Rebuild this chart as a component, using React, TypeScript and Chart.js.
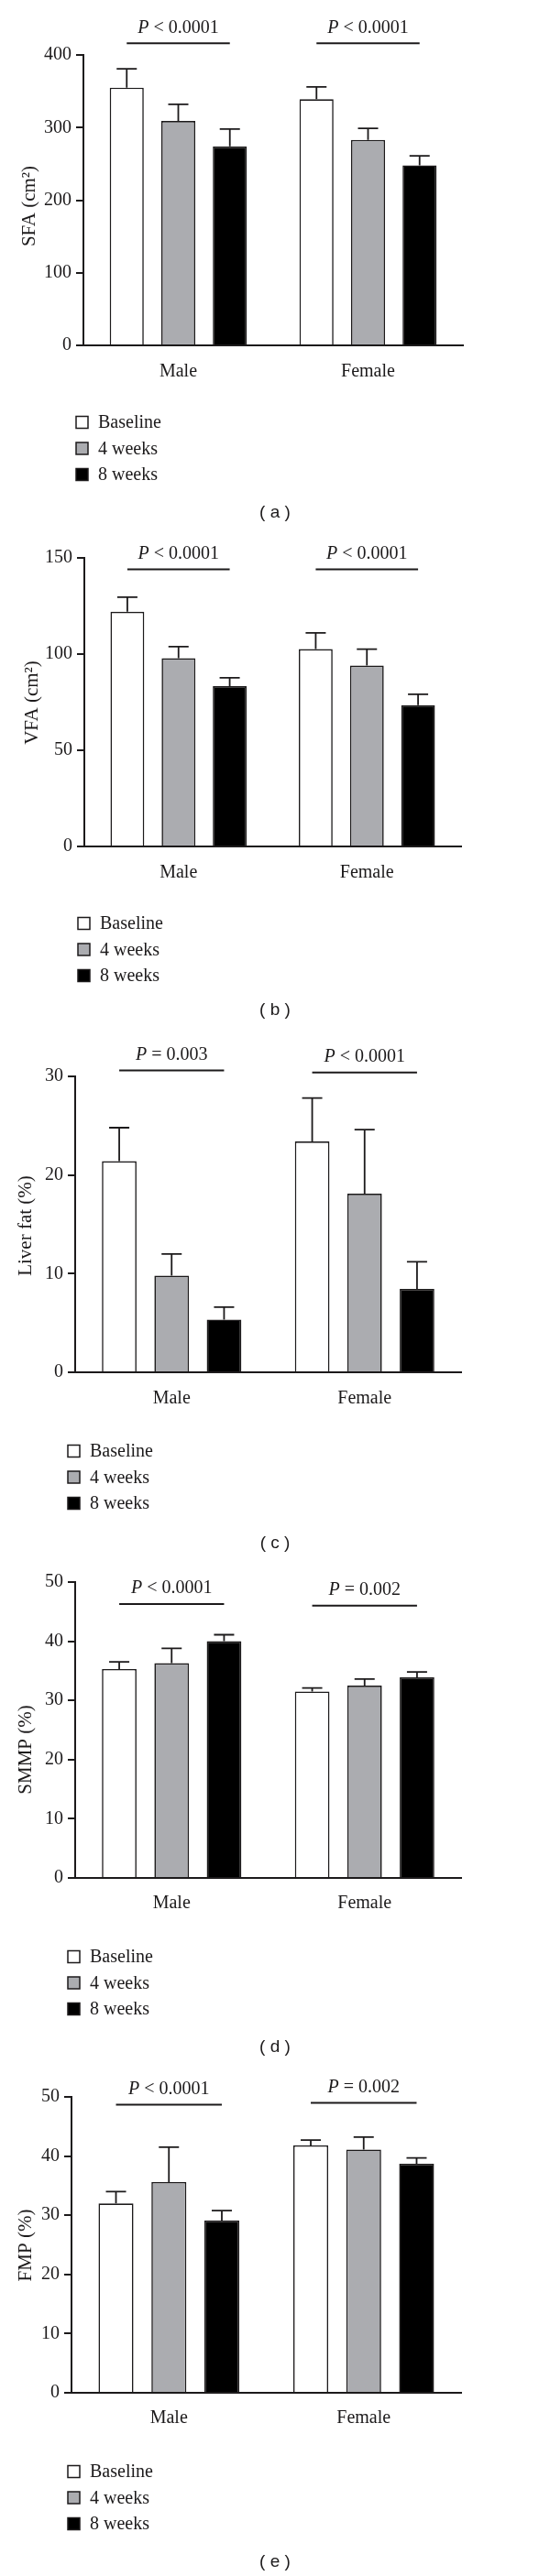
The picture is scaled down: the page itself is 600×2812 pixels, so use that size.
import React, { useEffect, useRef } from "react";
import { Chart, registerables } from "chart.js";

Chart.register(...registerables);

// ---------- shared categories / series ----------
const groups = ["Male", "Female"];
const seriesLabels = ["Baseline", "4 weeks", "8 weeks"];
const seriesColors = ["#ffffff", "#abacb0", "#000000"];

// ---------- (a) SFA ----------
const sfaTicks = { max: 400, step: 100 };
const sfaBaseline = [355, 339];
const sfa4w = [309, 283];
const sfa8w = [274, 248];
const sfaBaselineErr = [381, 356];
const sfa4wErr = [332, 299];
const sfa8wErr = [298, 261];
const sfaP = ["< 0.0001", "< 0.0001"];
const sfaPLine = [416, 416];

// ---------- (b) VFA ----------
const vfaTicks = { max: 150, step: 50 };
const vfaBaseline = [122, 102.6];
const vfa4w = [97.9, 94];
const vfa8w = [83.3, 73.5];
const vfaBaselineErr = [129.6, 111];
const vfa4wErr = [103.9, 102.6];
const vfa8wErr = [87.7, 79.1];
const vfaP = ["< 0.0001", "< 0.0001"];
const vfaPLine = [144, 144];

// ---------- (c) Liver fat ----------
const liverTicks = { max: 30, step: 10 };
const liverBaseline = [21.4, 23.4];
const liver4w = [9.8, 18.1];
const liver8w = [5.35, 8.45];
const liverBaselineErr = [24.8, 27.8];
const liver4wErr = [12.0, 24.6];
const liver8wErr = [6.6, 11.2];
const liverP = ["= 0.003", "< 0.0001"];
const liverPLine = [30.6, 30.4];

// ---------- (d) SMMP ----------
const smmpTicks = { max: 50, step: 10 };
const smmpBaseline = [35.3, 31.5];
const smmp4w = [36.3, 32.5];
const smmp8w = [40.0, 33.9];
const smmpBaselineErr = [36.5, 32.1];
const smmp4wErr = [38.8, 33.6];
const smmp8wErr = [41.1, 34.8];
const smmpP = ["< 0.0001", "= 0.002"];
const smmpPLine = [46.3, 46.0];

// ---------- (e) FMP ----------
const fmpTicks = { max: 50, step: 10 };
const fmpBaseline = [32.0, 41.8];
const fmp4w = [35.6, 41.1];
const fmp8w = [29.1, 38.7];
const fmpBaselineErr = [34.0, 42.7];
const fmp4wErr = [41.5, 43.2];
const fmp8wErr = [30.8, 39.7];
const fmpP = ["< 0.0001", "= 0.002"];
const fmpPLine = [48.7, 49.0];

// ---------- layout (page pixels) ----------
type Layout = {
  top: number; height: number; chartTop: number; chartBottom: number;
  axisX: number; axisRight: number; xLabelY: number; titleX: number; titleY: number;
  legendY: number; legendX: number; tagY: number;
};

const layouts: Layout[] = [
  { top: 0, height: 580, chartTop: 60, chartBottom: 377, axisX: 91, axisRight: 505, xLabelY: 398, titleX: 32, titleY: 225, legendY: 461, legendX: 83, tagY: 560 },
  { top: 580, height: 545, chartTop: 609, chartBottom: 924, axisX: 92, axisRight: 503, xLabelY: 945, titleX: 35, titleY: 767, legendY: 1008, legendX: 85, tagY: 1103 },
  { top: 1125, height: 580, chartTop: 1175, chartBottom: 1498, axisX: 82, axisRight: 503, xLabelY: 1519, titleX: 28, titleY: 1338, legendY: 1584, legendX: 74, tagY: 1685 },
  { top: 1705, height: 555, chartTop: 1727, chartBottom: 2050, axisX: 82, axisRight: 503, xLabelY: 2070, titleX: 28, titleY: 1910, legendY: 2136, legendX: 74, tagY: 2235 },
  { top: 2260, height: 552, chartTop: 2289, chartBottom: 2612, axisX: 78, axisRight: 503, xLabelY: 2632, titleX: 28, titleY: 2451, legendY: 2698, legendX: 74, tagY: 2797 },
];

type PanelDef = {
  yTitle: string; ticks: { max: number; step: number };
  means: number[][]; errTops: number[][]; pTexts: string[]; pLine: number[];
  tag: string; layout: Layout;
};

const panels: PanelDef[] = [
  { yTitle: "SFA (cm²)", ticks: sfaTicks, means: [sfaBaseline, sfa4w, sfa8w], errTops: [sfaBaselineErr, sfa4wErr, sfa8wErr], pTexts: sfaP, pLine: sfaPLine, tag: "( a )", layout: layouts[0] },
  { yTitle: "VFA (cm²)", ticks: vfaTicks, means: [vfaBaseline, vfa4w, vfa8w], errTops: [vfaBaselineErr, vfa4wErr, vfa8wErr], pTexts: vfaP, pLine: vfaPLine, tag: "( b )", layout: layouts[1] },
  { yTitle: "Liver fat (%)", ticks: liverTicks, means: [liverBaseline, liver4w, liver8w], errTops: [liverBaselineErr, liver4wErr, liver8wErr], pTexts: liverP, pLine: liverPLine, tag: "( c )", layout: layouts[2] },
  { yTitle: "SMMP (%)", ticks: smmpTicks, means: [smmpBaseline, smmp4w, smmp8w], errTops: [smmpBaselineErr, smmp4wErr, smmp8wErr], pTexts: smmpP, pLine: smmpPLine, tag: "( d )", layout: layouts[3] },
  { yTitle: "FMP (%)", ticks: fmpTicks, means: [fmpBaseline, fmp4w, fmp8w], errTops: [fmpBaselineErr, fmp4wErr, fmp8wErr], pTexts: fmpP, pLine: fmpPLine, tag: "( e )", layout: layouts[4] },
];

const ink = "#1c1a1b";
const serif = '"Liberation Serif", "DejaVu Serif", serif';
const FS = 20;
const TITLE_FS = 21;

function Panel({ def }: { def: PanelDef }) {
  const ref = useRef<HTMLCanvasElement | null>(null);
  useEffect(() => {
    const L = def.layout;
    const off = L.top;
    const decor = {
      id: "decor",
      afterDatasetsDraw(chart: any) {
        const ctx = chart.ctx;
        const ys = chart.scales.y;
        ctx.save();
        ctx.strokeStyle = ink;
        ctx.lineWidth = 1.8;
        def.errTops.forEach((arr, i) => {
          const meta = chart.getDatasetMeta(i);
          meta.data.forEach((el: any, j: number) => {
            const x = el.x;
            const yTop = el.y;
            const yE = ys.getPixelForValue(arr[j]);
            ctx.beginPath();
            ctx.moveTo(x, yTop);
            ctx.lineTo(x, yE);
            ctx.moveTo(x - 11, yE);
            ctx.lineTo(x + 11, yE);
            ctx.stroke();
          });
        });
        ctx.restore();
      },
      afterDraw(chart: any) {
        const ctx = chart.ctx;
        const ys = chart.scales.y;
        ctx.save();
        ctx.fillStyle = ink;
        ctx.strokeStyle = ink;
        // P-value annotations
        groups.forEach((_, j) => {
          const first = chart.getDatasetMeta(0).data[j];
          const last = chart.getDatasetMeta(seriesLabels.length - 1).data[j];
          const y = ys.getPixelForValue(def.pLine[j]);
          ctx.lineWidth = 2;
          ctx.beginPath();
          ctx.moveTo(first.x, y);
          ctx.lineTo(last.x, y);
          ctx.stroke();
          const cx = (first.x + last.x) / 2;
          const ty = y - 17;
          ctx.textBaseline = "middle";
          ctx.textAlign = "left";
          ctx.font = `italic ${FS}px ${serif}`;
          const wP = ctx.measureText("P").width;
          ctx.font = `${FS}px ${serif}`;
          const rest = " " + def.pTexts[j];
          const wR = ctx.measureText(rest).width;
          const sx = cx - (wP + wR) / 2;
          ctx.font = `italic ${FS}px ${serif}`;
          ctx.fillText("P", sx, ty);
          ctx.font = `${FS}px ${serif}`;
          ctx.fillText(rest, sx + wP, ty);
        });
        // y-axis title
        ctx.save();
        ctx.translate(L.titleX, L.titleY - off);
        ctx.rotate(-Math.PI / 2);
        ctx.textAlign = "center";
        ctx.textBaseline = "middle";
        ctx.font = `${TITLE_FS}px ${serif}`;
        ctx.fillText(def.yTitle, 0, 0);
        ctx.restore();
        // legend
        seriesLabels.forEach((lab, i) => {
          const ry = L.legendY - off + i * 28.5;
          ctx.fillStyle = seriesColors[i];
          ctx.fillRect(L.legendX, ry - 6.5, 13, 13);
          ctx.lineWidth = 1.5;
          ctx.strokeStyle = ink;
          ctx.strokeRect(L.legendX, ry - 6.5, 13, 13);
          ctx.fillStyle = ink;
          ctx.font = `${FS}px ${serif}`;
          ctx.textAlign = "left";
          ctx.textBaseline = "middle";
          ctx.fillText(lab, L.legendX + 24, ry + 1);
        });
        // panel tag
        ctx.font = '19px "Liberation Sans", "DejaVu Sans", sans-serif';
        ctx.textAlign = "center";
        ctx.textBaseline = "middle";
        ctx.fillText(def.tag, 300, L.tagY - off);
        ctx.restore();
      },
    };

    const chart = new Chart(ref.current as HTMLCanvasElement, {
      type: "bar",
      data: {
        labels: groups,
        datasets: seriesLabels.map((lab, i) => ({
          label: lab,
          data: def.means[i],
          backgroundColor: seriesColors[i],
          borderColor: ink,
          borderWidth: 1.6,
          borderSkipped: "start",
          categoryPercentage: 0.815,
          barPercentage: 0.66,
        })),
      },
      options: {
        responsive: false,
        animation: false,
        devicePixelRatio: 1,
        layout: { padding: { top: L.chartTop - off, left: 0, right: 600 - L.axisRight, bottom: 0 } },
        plugins: { legend: { display: false }, tooltip: { enabled: false }, title: { display: false } },
        scales: {
          x: {
            grid: { display: false },
            border: { display: true, color: ink, width: 2 },
            ticks: {
              color: ink,
              font: { family: serif, size: FS },
              padding: L.xLabelY - L.chartBottom - FS * 0.6,
              maxRotation: 0,
            },
            afterFit: (s: any) => { s.height = L.height - (L.chartBottom - off); },
          },
          y: {
            min: 0,
            max: def.ticks.max,
            ticks: { stepSize: def.ticks.step, color: ink, font: { family: serif, size: FS }, padding: 5 },
            grid: { drawOnChartArea: false, drawTicks: true, tickLength: 8, color: ink, lineWidth: 2 },
            border: { display: true, color: ink, width: 2 },
            afterFit: (s: any) => { s.width = L.axisX; },
          },
        },
      } as any,
      plugins: [decor],
    });
    return () => chart.destroy();
  }, [def]);

  const L = def.layout;
  return (
    <canvas
      ref={ref}
      width={600}
      height={L.height}
      style={{ position: "absolute", left: 0, top: L.top, width: 600, height: L.height, display: "block" }}
    />
  );
}

export default function App() {
  return (
    <div style={{ position: "absolute", left: 0, top: 0, width: 600, height: 2812, background: "#ffffff", overflow: "hidden" }}>
      {panels.map((p, i) => (
        <Panel key={i} def={p} />
      ))}
    </div>
  );
}
